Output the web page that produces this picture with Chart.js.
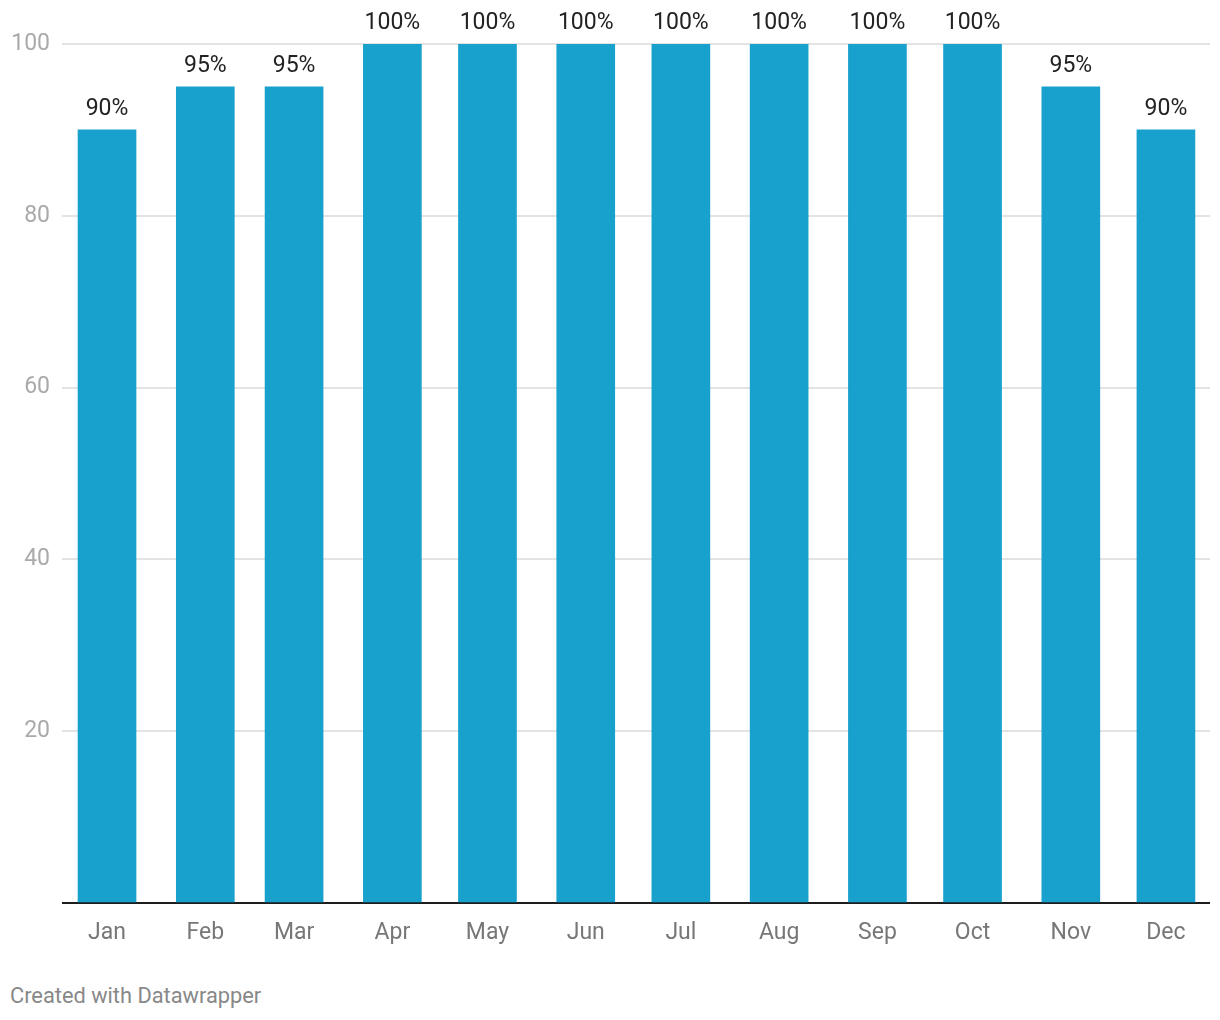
<!DOCTYPE html>
<html>
<head>
<meta charset="utf-8">
<script src="https://cdn.jsdelivr.net/npm/chart.js@4/dist/chart.umd.min.js"></script>
<style>
  html,body{margin:0;padding:0;background:#fff;}
  #wrap{position:relative;width:1220px;height:1020px;}
  #c{position:absolute;left:0;top:0;}
  #foot{position:absolute;left:10px;top:983px;font:21.8px Roboto,sans-serif;color:#888;}
</style>
</head>
<body>
<div id="wrap">
  <canvas id="c" width="1220" height="960"></canvas>
  <div id="foot">Created with Datawrapper</div>
</div>
<script>
// months, placed on a day-of-year axis like the original (month start)
const months=["Jan","Feb","Mar","Apr","May","Jun","Jul","Aug","Sep","Oct","Nov","Dec"];
const monthStart=[0,31,59,90,120,151,181,212,243,273,304,334];
const values=[90,95,95,100,100,100,100,100,100,100,95,90];
const yTicks=[0,20,40,60,80,100];

const BLUE="#18a1cd";
const FONT="Roboto, sans-serif";

const valueLabels={
  id:"valueLabels",
  afterDatasetsDraw(chart){
    const ctx=chart.ctx, meta=chart.getDatasetMeta(0);
    ctx.save();
    ctx.font="23px "+FONT; ctx.fillStyle="#222";
    ctx.textAlign="center"; ctx.textBaseline="alphabetic";
    meta.data.forEach((bar,i)=>{ ctx.fillText(values[i]+"%", bar.x, bar.y-15); });
    ctx.restore();
  }
};

new Chart(document.getElementById("c").getContext("2d"),{
  type:"bar",
  data:{ datasets:[{
    data:monthStart.map((d,i)=>({x:d,y:values[i]})),
    backgroundColor:BLUE, barThickness:58, borderWidth:0
  }]},
  options:{
    animation:false, responsive:false, maintainAspectRatio:false,
    layout:{ padding:{top:44,right:10,left:0,bottom:0} },
    plugins:{ legend:{display:false}, tooltip:{enabled:false} },
    scales:{
      x:{ type:"linear", min:-14.2, max:347.9, offset:false,
        grid:{display:false, offset:false}, border:{display:false},
        afterBuildTicks:s=>{ s.ticks=monthStart.map(v=>({value:v})); },
        afterFit:s=>{ s.height=57; },
        ticks:{ autoSkip:false, maxRotation:0, padding:8, color:"#777",
          font:{family:FONT,size:23}, callback:(v,i)=>months[i] } },
      y:{ min:0, max:100,
        border:{display:false},
        afterBuildTicks:s=>{ s.ticks=yTicks.map(v=>({value:v})); },
        afterFit:s=>{ s.width=62; },
        grid:{ drawTicks:false,
          color:c=>c.tick && c.tick.value===0 ? "#1d1d1d" : "#e3e3e3",
          lineWidth:2 },
        ticks:{ padding:12, color:"#aaa", font:{family:FONT,size:23},
          callback:v=>v===0?"":v } }
    }
  },
  plugins:[valueLabels]
});
</script>
</body>
</html>
